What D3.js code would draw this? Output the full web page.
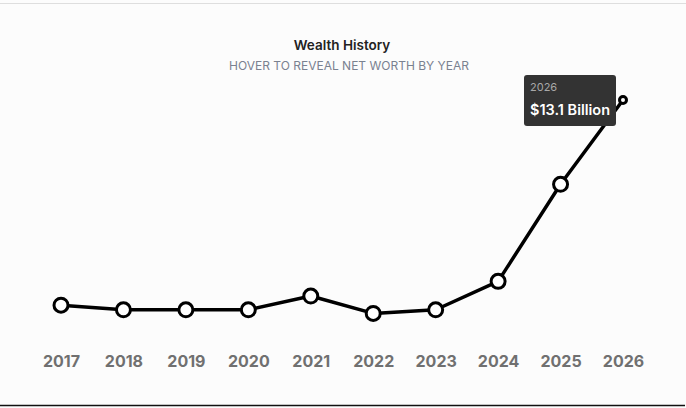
<!DOCTYPE html>
<html>
<head>
<meta charset="utf-8">
<script src="https://cdn.jsdelivr.net/npm/d3@7"></script>
<style>
  html, body { margin: 0; padding: 0; background: #fcfcfc; }
  svg { display: block; font-family: Inter, "Open Sans", sans-serif; }
</style>
</head>
<body>
<div id="chart"></div>
<script>
var years = ["2017", "2018", "2019", "2020", "2021", "2022", "2023", "2024", "2025", "2026"];
var netWorth = [1.9, 1.65, 1.65, 1.65, 2.4, 1.45, 1.65, 3.2, 8.5, 13.1]; // billions
var title = "Wealth History";
var subtitle = "HOVER TO REVEAL NET WORTH BY YEAR";

var width = 686, height = 408;

var svg = d3.select("#chart").append("svg")
    .attr("width", width)
    .attr("height", height);

svg.append("rect")
    .attr("width", width).attr("height", height)
    .attr("fill", "#fcfcfc");

// top and bottom borders
svg.append("line")
    .attr("x1", 0).attr("x2", width).attr("y1", 3.5).attr("y2", 3.5)
    .attr("stroke", "#dedede").attr("stroke-width", 1);
svg.append("line")
    .attr("x1", 0).attr("x2", 685).attr("y1", 405.5).attr("y2", 405.5)
    .attr("stroke", "#111").attr("stroke-width", 1.5);

svg.append("text")
    .attr("x", 342).attr("y", 50)
    .attr("text-anchor", "middle")
    .attr("font-size", 13.5).attr("font-weight", 600)
    .attr("fill", "#222")
    .text(title);

svg.append("text")
    .attr("x", 349).attr("y", 69.5)
    .attr("text-anchor", "middle")
    .attr("font-size", 12)
    .attr("fill", "#7a8190")
    .text(subtitle);

var xScale = d3.scalePoint()
    .domain(years)
    .range([61, 623]);

var yScale = d3.scaleLinear()
    .domain([0, 13.1])
    .range([340, 100]);

var data = years.map(function (y, i) { return { year: y, value: netWorth[i] }; });

var line = d3.line()
    .x(function (d) { return xScale(d.year); })
    .y(function (d) { return yScale(d.value); });

svg.append("path")
    .datum(data)
    .attr("d", line)
    .attr("fill", "none")
    .attr("stroke", "#000")
    .attr("stroke-width", 3.5)
    .attr("stroke-linejoin", "round");

svg.selectAll("circle.pt")
    .data(data).enter().append("circle")
    .attr("class", "pt")
    .attr("cx", function (d) { return xScale(d.year); })
    .attr("cy", function (d) { return yScale(d.value); })
    .attr("r", function (d, i) { return i === data.length - 1 ? 3.5 : 7; })
    .attr("fill", "#fff")
    .attr("stroke", "#000")
    .attr("stroke-width", 3);

var xAxis = d3.axisBottom(xScale).tickSize(0).tickPadding(0);
var gx = svg.append("g")
    .attr("transform", "translate(0,356)")
    .call(xAxis);
gx.select(".domain").remove();
gx.selectAll("text")
    .attr("font-family", "Inter, 'Open Sans', sans-serif")
    .attr("font-size", 16).attr("font-weight", 700)
    .attr("fill", "#707070");

// tooltip on the last year
var last = data[data.length - 1];
var tip = svg.append("g")
    .attr("transform", "translate(" + (xScale(last.year) - 99) + "," + (yScale(last.value) - 25) + ")");
tip.append("rect")
    .attr("width", 92).attr("height", 51)
    .attr("rx", 3)
    .attr("fill", "#333");
tip.append("text")
    .attr("x", 6).attr("y", 16)
    .attr("font-size", 11)
    .attr("fill", "#a8a8a8")
    .text(last.year);
tip.append("text")
    .attr("x", 6).attr("y", 40)
    .attr("font-size", 14.5).attr("font-weight", 600)
    .attr("fill", "#fff")
    .text("$" + last.value + " Billion");
</script>
</body>
</html>
